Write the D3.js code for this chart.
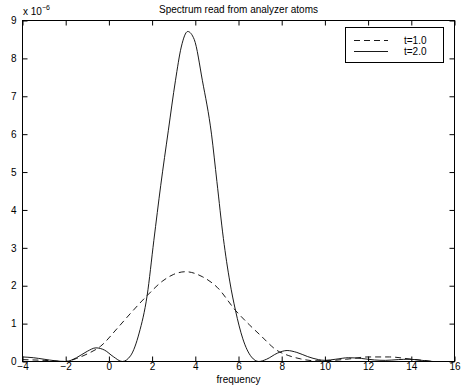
<!DOCTYPE html>
<html><head><meta charset="utf-8">
<script src="https://cdn.jsdelivr.net/npm/d3@7/dist/d3.min.js"></script>
<style>body{margin:0;background:#fff}svg{display:block}text{font-family:"Liberation Sans",Arial,sans-serif;font-size:10px;fill:#000}</style>
</head><body><svg id="c" width="463" height="387"></svg>
<script>
const title = "Spectrum read from analyzer atoms";
const xLabel = "frequency";
const xTicks = [-4,-2,0,2,4,6,8,10,12,14,16];
const yTicks = [0,1,2,3,4,5,6,7,8,9];
const seriesNames = ["t=1.0","t=2.0"];
// t=1.0 (dashed), values in units of 1e-6
const freq1 = [-4,-3,-2,-1.5,-1,-0.39,0.38,1.0,1.77,2.5,3.0,3.55,4.32,5.01,5.86,6.5,7.0,7.79,8.3,8.87,9.5,10,11,12,13,14,15];
const val1  = [0.05,0.03,0.0,0.08,0.2,0.40,0.87,1.27,1.74,2.13,2.3,2.37,2.24,1.96,1.35,0.97,0.7,0.29,0.16,0.07,0.02,0.02,0.06,0.12,0.12,0.06,0.0];
// t=2.0 (solid)
const freq2 = [-4,-3.5,-3,-2.5,-2,-1.5,-1,-0.6,-0.2,0.2,0.62,1.0,1.4,1.77,2.08,2.4,2.75,3.08,3.35,3.65,3.95,4.33,4.75,5.0,5.3,5.6,5.86,6.2,6.6,6.94,7.3,7.8,8.25,8.7,9.2,9.7,10,10.5,11.1,11.7,12.3,12.8,13.4,13.9,14.5,15];
const val2  = [0.12,0.10,0.06,0.02,0.0,0.1,0.27,0.36,0.3,0.13,0.0,0.15,0.75,1.74,3.19,4.65,6.09,7.41,8.3,8.71,8.5,7.41,6.0,4.75,3.25,2.1,1.35,0.6,0.12,0.0,0.06,0.22,0.29,0.24,0.13,0.05,0.03,0.06,0.1,0.08,0.04,0.03,0.05,0.06,0.03,0.0];

const svg = d3.select("#c");
const L=22.5,R=454.5,T=20.5,B=361.5;
const x = d3.scaleLinear().domain([-4,16]).range([L,R]);
const y = d3.scaleLinear().domain([0,9]).range([B,T]);

svg.append("defs").append("clipPath").attr("id","clip").append("rect")
  .attr("x",L).attr("y",T).attr("width",R-L).attr("height",B-T);

const line = d3.line().x(d=>x(d[0])).y(d=>y(d[1])).curve(d3.curveMonotoneX);
const g = svg.append("g").attr("clip-path","url(#clip)");
g.append("path").datum(freq1.map((f,i)=>[f,val1[i]])).attr("d",line)
  .attr("fill","none").attr("stroke","#000").attr("stroke-width",0.9).attr("stroke-dasharray","6,4");
g.append("path").datum(freq2.map((f,i)=>[f,val2[i]])).attr("d",line)
  .attr("fill","none").attr("stroke","#000").attr("stroke-width",0.9);

// frame
svg.append("rect").attr("x",L).attr("y",T).attr("width",R-L).attr("height",B-T)
  .attr("fill","none").attr("stroke","#000").attr("stroke-width",1);

const fmt = d => d<0 ? "\u2212"+Math.abs(d) : String(d);
// axes with inward ticks
const xb = svg.append("g").attr("transform",`translate(0,${B})`)
  .call(d3.axisBottom(x).tickValues(xTicks).tickSize(-5).tickPadding(1).tickFormat(fmt));
const xt = svg.append("g").attr("transform",`translate(0,${T})`)
  .call(d3.axisTop(x).tickValues(xTicks).tickSize(-5).tickFormat(""));
const yl = svg.append("g").attr("transform",`translate(${L},0)`)
  .call(d3.axisLeft(y).tickValues(yTicks).tickSize(-5).tickPadding(6).tickFormat(d3.format("d")));
const yr = svg.append("g").attr("transform",`translate(${R},0)`)
  .call(d3.axisRight(y).tickValues(yTicks).tickSize(-5).tickFormat(""));
[xb,xt,yl,yr].forEach(a=>{a.select(".domain").remove();a.selectAll("line").attr("stroke","#000");
  a.selectAll("text").style("font-family","\"Liberation Sans\",Arial,sans-serif").style("font-size","10px").attr("fill","#000");});
xb.selectAll("text").attr("dy","0.71em");

// exponent label
const ex = svg.append("text").attr("x",23).attr("y",15);
ex.append("tspan").text("x 10");
ex.append("tspan").attr("dy",-5).style("font-size","7px").text("\u22126");

// title
svg.append("text").attr("x",(L+R)/2).attr("y",13).attr("text-anchor","middle").text(title);
// x label
svg.append("text").attr("x",(L+R)/2).attr("y",383).attr("text-anchor","middle").text(xLabel);

// legend
const lg = svg.append("g");
lg.append("rect").attr("x",345.5).attr("y",27.5).attr("width",98).attr("height",35)
  .attr("fill","#fff").attr("stroke","#000").attr("stroke-width",1);
lg.append("line").attr("x1",354).attr("x2",388).attr("y1",40.5).attr("y2",40.5)
  .attr("stroke","#000").attr("stroke-width",0.9).attr("stroke-dasharray","6,4");
lg.append("line").attr("x1",354).attr("x2",388).attr("y1",51.5).attr("y2",51.5)
  .attr("stroke","#000").attr("stroke-width",0.9);
lg.append("text").attr("x",404).attr("y",44).text(seriesNames[0]);
lg.append("text").attr("x",404).attr("y",55).text(seriesNames[1]);
</script></body></html>
